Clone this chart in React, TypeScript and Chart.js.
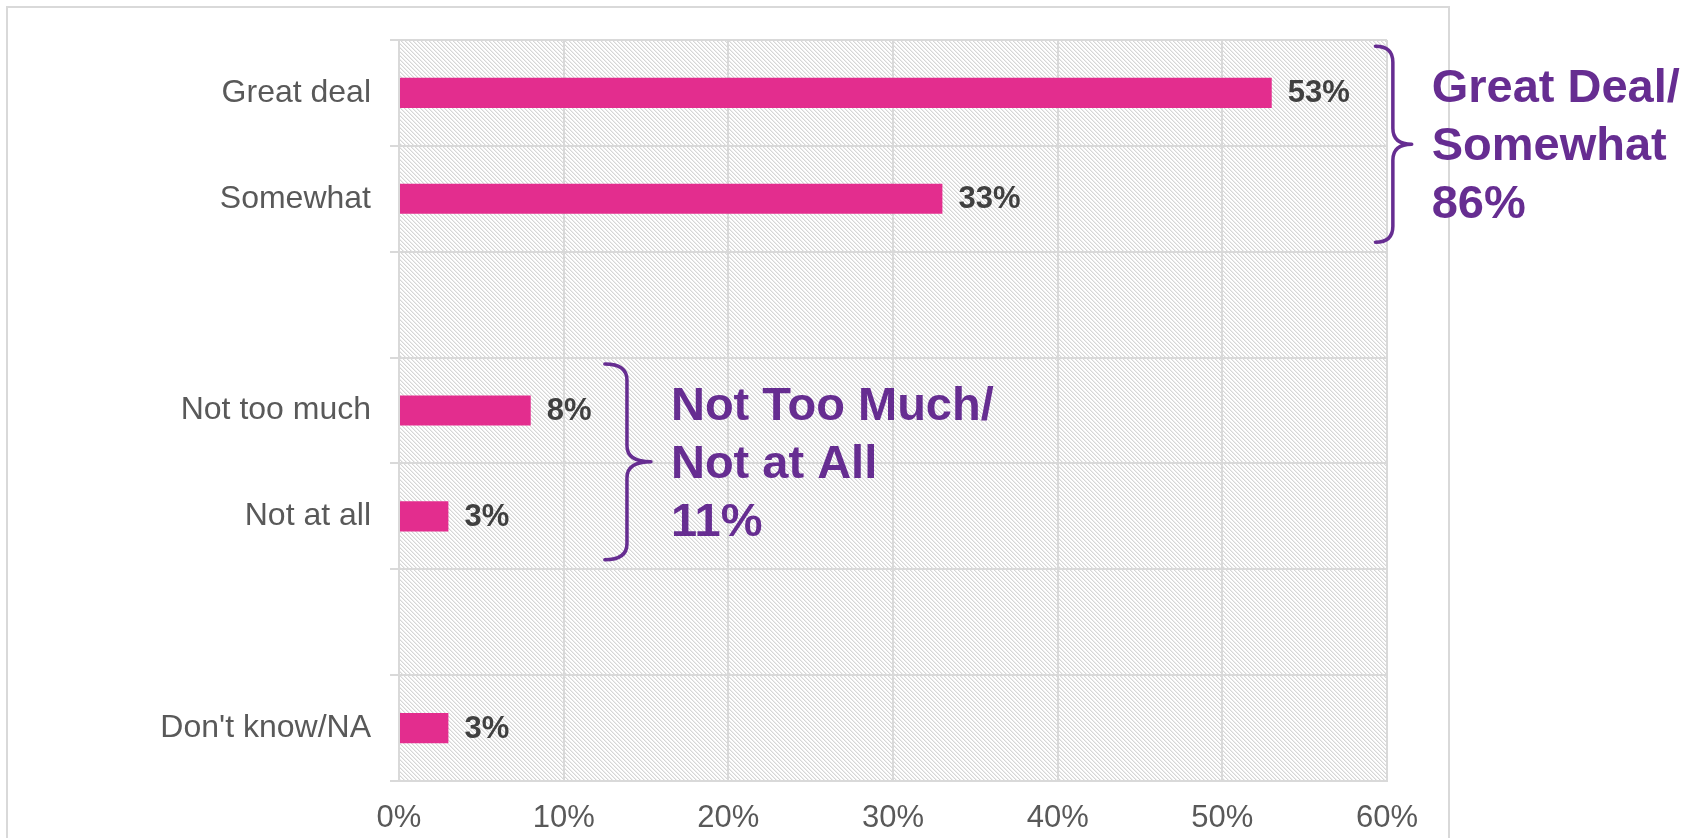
import React, { useEffect, useRef } from "react";
import { Chart, registerables } from "chart.js";

Chart.register(...registerables);

// ---- data ----
const categories = ["Great deal", "Somewhat", "", "Not too much", "Not at all", "", "Don't know/NA"];
const values: (number | null)[] = [53, 33, null, 8, 3, null, 3];
const xMin = 0;
const xMax = 60;
const xStep = 10;

// summary groups (brackets)
const groupTitles = [
  ["Great Deal/", "Somewhat"],
  ["Not Too Much/", "Not at All"],
];
const groupFirst = [0, 3];
const groupLast = [1, 4];
const groupTipX = [59.3, 12.5]; // value-axis units (%)
const groupPointX = [61.5, 15.3];

// ---- styles ----
const FONT = "'Liberation Sans', Arial, Helvetica, sans-serif";
const BAR_COLOR = "#E32D8E";
const PURPLE = "#662D91";
const GRID = "#D9D9D9";
const AXIS_TEXT = "#595959";
const LABEL_TEXT = "#404040";

function makeHatch(ctx: CanvasRenderingContext2D) {
  const c = document.createElement("canvas");
  c.width = 8;
  c.height = 8;
  const g = c.getContext("2d")!;
  g.fillStyle = "#ffffff";
  g.fillRect(0, 0, 8, 8);
  for (let y = 0; y < 8; y++) {
    for (let x = 0; x < 8; x++) {
      const d = (((x - y) % 4) + 4) % 4;
      if (d === 0) {
        g.fillStyle = "#D6D6D6";
        g.fillRect(x, y, 1, 1);
      } else if (d === 1) {
        g.fillStyle = "#EDEDED";
        g.fillRect(x, y, 1, 1);
      }
    }
  }
  return ctx.createPattern(c, "repeat");
}

const decorPlugin = {
  id: "decor",
  beforeDraw(chart: any) {
    const { ctx, chartArea: a } = chart;
    ctx.save();
    ctx.fillStyle = "#ffffff";
    ctx.fillRect(0, 0, chart.width, chart.height);
    ctx.strokeStyle = GRID;
    ctx.lineWidth = 2;
    ctx.strokeRect(7, 7, 1442, 900);
    const pat = makeHatch(ctx);
    if (pat) ctx.fillStyle = pat;
    ctx.fillRect(a.left, a.top, a.right - a.left, a.bottom - a.top);
    ctx.restore();
  },
  afterDatasetsDraw(chart: any) {
    const { ctx } = chart;
    const meta = chart.getDatasetMeta(0);
    ctx.save();
    ctx.font = `bold 31px ${FONT}`;
    ctx.fillStyle = LABEL_TEXT;
    ctx.textAlign = "left";
    ctx.textBaseline = "middle";
    meta.data.forEach((el: any, i: number) => {
      const v = values[i];
      if (v == null) return;
      ctx.fillText(`${v}%`, el.x + 16, el.y + 1);
    });
    ctx.restore();
  },
  afterDraw(chart: any) {
    const { ctx } = chart;
    const xs = chart.scales.x;
    const ys = chart.scales.y;
    const band = ys.getPixelForValue(1) - ys.getPixelForValue(0);
    ctx.save();
    groupTitles.forEach((titles, g) => {
      const yTop = ys.getPixelForValue(groupFirst[g]) - 0.44 * band;
      const yBot = ys.getPixelForValue(groupLast[g]) + 0.41 * band;
      const mid = (yTop + yBot) / 2;
      const xTip = xs.getPixelForValue(groupTipX[g]);
      const xPt = xs.getPixelForValue(groupPointX[g]);
      const xStem = xTip + 0.48 * (xPt - xTip);
      const r = 16;
      ctx.beginPath();
      ctx.moveTo(xTip, yTop);
      ctx.quadraticCurveTo(xStem, yTop, xStem, yTop + r);
      ctx.lineTo(xStem, mid - r);
      ctx.quadraticCurveTo(xStem, mid, xPt, mid);
      ctx.quadraticCurveTo(xStem, mid, xStem, mid + r);
      ctx.lineTo(xStem, yBot - r);
      ctx.quadraticCurveTo(xStem, yBot, xTip, yBot);
      ctx.strokeStyle = PURPLE;
      ctx.lineWidth = 3.5;
      ctx.lineCap = "round";
      ctx.lineJoin = "round";
      ctx.stroke();

      let sum = 0;
      for (let i = groupFirst[g]; i <= groupLast[g]; i++) sum += values[i] || 0;
      const lines = [...titles, `${sum}%`];
      ctx.font = `bold 47px ${FONT}`;
      ctx.fillStyle = PURPLE;
      ctx.textAlign = "left";
      ctx.textBaseline = "alphabetic";
      lines.forEach((t, i) => {
        ctx.fillText(t, xPt + 20, mid + 16 + (i - 1) * 58);
      });
    });
    ctx.restore();
  },
};

export default function App() {
  const ref = useRef<HTMLCanvasElement | null>(null);

  useEffect(() => {
    document.body.style.margin = "0";
    document.body.style.overflow = "hidden";
    const canvas = ref.current;
    if (!canvas) return;
    const chart = new Chart(canvas, {
      type: "bar",
      data: {
        labels: categories,
        datasets: [
          {
            data: values as any,
            backgroundColor: BAR_COLOR,
            borderWidth: 0,
            categoryPercentage: 1,
            barPercentage: 0.285,
          },
        ],
      },
      options: {
        indexAxis: "y",
        responsive: false,
        animation: false,
        events: [],
        layout: { padding: { left: 0, top: 40, right: 314, bottom: 0 } },
        plugins: {
          legend: { display: false },
          tooltip: { enabled: false },
          title: { display: false },
        },
        scales: {
          x: {
            min: xMin,
            max: xMax,
            afterFit: (s: any) => {
              s.height = 57;
            },
            grid: { color: GRID, lineWidth: 2, drawTicks: false },
            border: { color: GRID, width: 2 },
            ticks: {
              stepSize: xStep,
              padding: 19,
              color: AXIS_TEXT,
              font: { family: FONT, size: 31 },
              callback: (v: any) => `${v}%`,
            },
          },
          y: {
            afterFit: (s: any) => {
              s.width = 399;
            },
            grid: { color: GRID, lineWidth: 2, tickLength: 9, offset: true },
            border: { color: GRID, width: 2 },
            ticks: {
              padding: 19,
              color: AXIS_TEXT,
              font: { family: FONT, size: 32 },
            },
          },
        },
      },
      plugins: [decorPlugin],
    });
    return () => chart.destroy();
  }, []);

  return (
    <div style={{ position: "absolute", left: 0, top: 0, width: 1701, height: 838 }}>
      <canvas ref={ref} width={1701} height={838} style={{ display: "block", width: 1701, height: 838 }} />
    </div>
  );
}
